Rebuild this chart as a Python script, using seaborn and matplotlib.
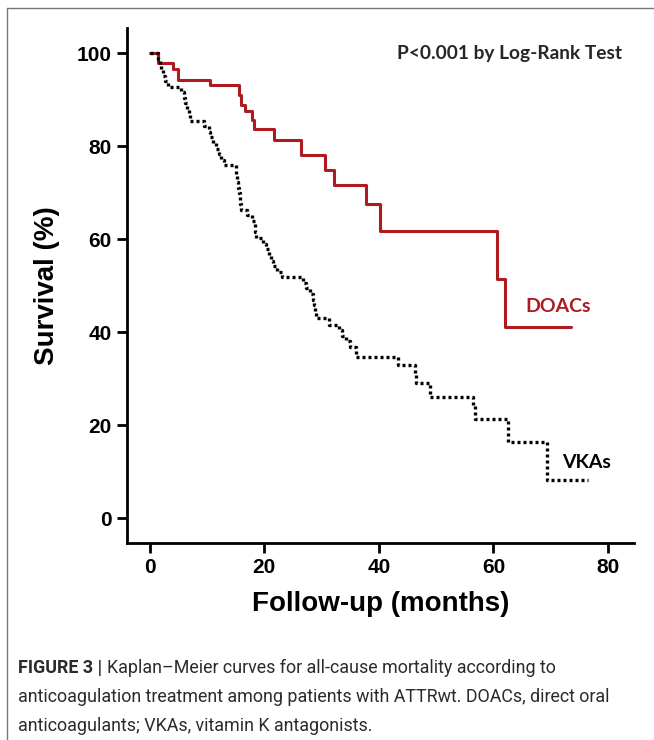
import numpy as np
import pandas as pd
import seaborn as sns
import matplotlib
matplotlib.use("Agg")
import matplotlib.pyplot as plt
from matplotlib.lines import Line2D

# step points: (month, survival % after the drop)
doac_t = [0, 1.4, 4.1, 4.9, 10.6, 15.6, 15.9, 16.6, 17.8, 18.2, 21.7, 26.4,
          30.6, 32.1, 37.8, 40.2, 60.7, 62.1, 73.5]
doac_s = [100, 97.8, 96.7, 94.3, 93.1, 91.0, 88.8, 87.6, 85.6, 83.6, 81.3, 78.1,
          74.8, 71.6, 67.5, 61.8, 51.5, 41.1, 41.1]

vka_t = [0, 1.5, 1.7, 2.0, 2.3, 2.6, 3.2, 5.4, 5.9, 6.2, 6.5, 6.8, 7.1,
         9.4, 10.3, 10.5, 11.0, 11.5, 12.0, 12.5, 12.9,
         15.0, 15.1, 15.3, 15.4, 15.6, 15.7, 15.8, 16.0, 17.0, 17.8, 18.3, 18.4, 18.5,
         19.8, 20.3, 20.8, 21.1, 21.5, 22.2, 23.0,
         26.7, 27.2, 27.9, 28.5, 28.7, 28.9, 29.1,
         31.3, 33.0, 33.6, 34.2, 35.0, 36.0,
         43.3, 46.3, 46.5, 48.9, 56.5, 56.8, 62.6, 69.3, 76.6]
vka_s = [100, 98.8, 97.6, 96.4, 95.2, 94.0, 92.8, 91.6, 90.4, 89.2, 88.0, 86.7, 85.5,
         84.3, 83.1, 81.9, 80.7, 79.5, 78.3, 77.1, 75.9,
         74.7, 73.5, 72.3, 71.1, 69.9, 68.7, 67.5, 66.3, 65.1, 63.9, 62.7, 61.5, 60.3,
         59.0, 57.8, 56.6, 55.4, 54.2, 53.0, 51.8,
         50.6, 49.4, 48.2, 47.0, 45.8, 44.6, 43.0,
         41.6, 40.4, 39.2, 38.0, 36.8, 34.6,
         33.0, 31.0, 29.0, 26.1, 24.0, 21.4, 16.4, 8.2, 8.2]

x_ticks = [0, 20, 40, 60, 80]
y_ticks = [0, 20, 40, 60, 80, 100]

red = "#ad1a20"

sns.set_style("ticks")
plt.rcParams["font.family"] = ["Liberation Sans", "DejaVu Sans"]

fig = plt.figure(figsize=(6.54, 7.4), dpi=100)
ax = fig.add_axes([0.194, 0.266, 0.775, 0.696])

sns.lineplot(x=doac_t, y=doac_s, ax=ax, color=red, lw=2.2,
             drawstyle="steps-post", estimator=None, sort=False)
sns.lineplot(x=vka_t, y=vka_s, ax=ax, color="black", lw=2.4,
             drawstyle="steps-post", estimator=None, sort=False,
             linestyle=(0, (0.9, 0.9)))

ax.set_xlim(-4, 84.5)
ax.set_ylim(-5.4, 105.4)
ax.set_xticks(x_ticks)
ax.set_yticks(y_ticks)
ax.tick_params(width=2, length=7, labelsize=15, color="black", labelcolor="black", pad=4)
for lab in ax.get_xticklabels() + ax.get_yticklabels():
    lab.set_fontweight("bold")
for sp in ["left", "bottom"]:
    ax.spines[sp].set_linewidth(2)
    ax.spines[sp].set_color("black")
sns.despine(ax=ax)

ax.set_xlabel("Follow-up (months)", fontsize=20, fontweight="bold", labelpad=10, color="black")
ax.set_ylabel("Survival (%)", fontsize=20, fontweight="bold", labelpad=12, color="black")

lbl_font = ["Lato", "DejaVu Sans"]
fig.text(510 / 654, 1 - 53 / 740, "P<0.001 by Log-Rank Test",
         ha="center", va="center", fontsize=13.8, fontweight="bold", family=lbl_font)
ax.text(71.3, 45.6, "DOACs", color=red, ha="center", va="center",
        fontsize=14, fontweight="bold", family=lbl_font)
ax.text(76.3, 12.0, "VKAs", color="black", ha="center", va="center",
        fontsize=14, fontweight="bold", family=lbl_font)

# figure frame lines (top and left)
fig.add_artist(Line2D([7 / 654, 1], [1 - 8 / 740, 1 - 8 / 740], color="#777777", lw=1))
fig.add_artist(Line2D([7 / 654, 7 / 654], [0, 1 - 8 / 740], color="#777777", lw=1))

cap_font = ["Roboto", "DejaVu Sans"]
cap_col = "#2b2b2b"
fs = 12.9
t0 = fig.text(18 / 654, 1 - 668 / 740, "FIGURE 3 |", fontsize=fs, fontweight="bold",
              color=cap_col, va="center", family=cap_font)
fig.canvas.draw()
bb = t0.get_window_extent().transformed(fig.transFigure.inverted())
fig.text(bb.x1 + 5 / 654, 1 - 668 / 740,
         "Kaplan\u2013Meier curves for all-cause mortality according to",
         fontsize=fs, color=cap_col, va="center", family=cap_font)
fig.text(18 / 654, 1 - 697 / 740,
         "anticoagulation treatment among patients with ATTRwt. DOACs, direct oral",
         fontsize=fs, color=cap_col, va="center", family=cap_font)
fig.text(18 / 654, 1 - 726 / 740,
         "anticoagulants; VKAs, vitamin K antagonists.",
         fontsize=fs, color=cap_col, va="center", family=cap_font)

fig.savefig("out.png", dpi=100)
